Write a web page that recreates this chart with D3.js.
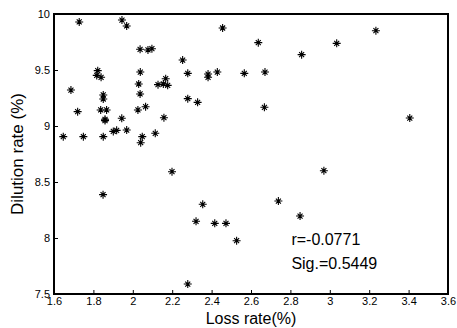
<!DOCTYPE html>
<html>
<head>
<meta charset="utf-8">
<script src="https://cdn.jsdelivr.net/npm/d3@7"></script>
<style>
  body { margin: 0; background: #fff; }
  svg { display: block; font-family: Arial, "Liberation Sans", sans-serif; }
</style>
</head>
<body>
<div id="chart"></div>
<script>
// Scatter data (loss rate %, dilution rate %)
const lossRate = [
  1.728, 1.945, 1.969, 2.456, 2.037, 2.077, 2.097, 2.253, 1.822, 1.817,
  1.839, 2.038, 2.279, 2.382, 2.382, 2.429, 1.686, 2.030, 2.167, 2.128,
  2.155, 2.177, 1.850, 1.850, 2.037, 2.065, 2.279, 2.329, 1.720, 1.837,
  1.867, 2.026, 1.859, 1.859, 1.944, 2.158, 1.647, 1.749, 1.850, 1.901,
  1.918, 1.969, 2.048, 2.040, 2.114, 2.637, 3.035, 3.234, 2.857, 2.566,
  2.671, 2.668, 3.406, 1.849, 2.199, 2.355, 2.321, 2.416, 2.473, 2.279,
  2.527, 2.739, 2.849, 2.970
];
const dilutionRate = [
  9.929, 9.946, 9.893, 9.875, 9.685, 9.679, 9.690, 9.589, 9.494, 9.452,
  9.435, 9.482, 9.470, 9.464, 9.435, 9.482, 9.321, 9.375, 9.422, 9.369,
  9.375, 9.363, 9.277, 9.241, 9.286, 9.172, 9.244, 9.211, 9.128, 9.143,
  9.143, 9.143, 9.060, 9.048, 9.069, 9.074, 8.905, 8.905, 8.905, 8.952,
  8.961, 8.964, 8.905, 8.851, 8.935, 9.744, 9.738, 9.851, 9.637, 9.470,
  9.482, 9.167, 9.071, 8.387, 8.592, 8.301, 8.149, 8.131, 8.131, 7.589,
  7.976, 8.330, 8.196, 8.601
];
const xTicks = [1.6, 1.8, 2, 2.2, 2.4, 2.6, 2.8, 3, 3.2, 3.4, 3.6];
const yTicks = [7.5, 8, 8.5, 9, 9.5, 10];
const statLines = ["r=-0.0771", "Sig.=0.5449"];

const W = 457, H = 328;
const margin = { top: 14, right: 9, bottom: 34, left: 54 };
const width = W - margin.left - margin.right;
const height = H - margin.top - margin.bottom;

const svg = d3.select("#chart").append("svg")
  .attr("width", W)
  .attr("height", H);

const g = svg.append("g")
  .attr("transform", `translate(${margin.left},${margin.top})`);

const x = d3.scaleLinear().domain([1.6, 3.6]).range([0, width]);
const y = d3.scaleLinear().domain([7.5, 10]).range([height, 0]);

// Axes with inward ticks
const xAxis = g.append("g")
  .attr("transform", `translate(0,${height})`)
  .call(d3.axisBottom(x).tickValues(xTicks).tickSizeInner(-4).tickSizeOuter(0)
    .tickFormat(d3.format("~g")));
xAxis.selectAll("text").attr("dy", "0").attr("y", 11).style("font-size", "11px");

const yAxis = g.append("g")
  .call(d3.axisLeft(y).tickValues(yTicks).tickSizeInner(-4).tickSizeOuter(0)
    .tickFormat(d3.format("~g")));
yAxis.selectAll("text").attr("x", -4).style("font-size", "11px");

[xAxis, yAxis].forEach(a => {
  a.select(".domain").remove();
  a.selectAll("line").attr("stroke", "#000");
  a.selectAll("text").attr("fill", "#000");
});

// Box frame
g.append("rect")
  .attr("width", width)
  .attr("height", height)
  .attr("fill", "none")
  .attr("stroke", "#000")
  .attr("stroke-width", 2);

// Star markers
const pts = lossRate.map((v, i) => [v, dilutionRate[i]]);
const mk = g.append("g").selectAll("g")
  .data(pts)
  .enter().append("g")
  .attr("transform", d => `translate(${x(d[0])},${y(d[1])})`);

mk.append("path")
  .attr("d", "M-4,0H4M0,-4V4M-2.5,-2.5L2.5,2.5M-2.5,2.5L2.5,-2.5")
  .attr("stroke", "#000")
  .attr("stroke-width", 1.1)
  .attr("fill", "none");

// Correlation annotation
g.selectAll(".stat")
  .data(statLines)
  .enter().append("text")
  .attr("class", "stat")
  .attr("x", x(2.805))
  .attr("y", (d, i) => y(7.94) + i * 24)
  .style("font-size", "16px")
  .text(d => d);

// Axis titles
svg.append("text")
  .attr("x", margin.left + width / 2)
  .attr("y", 324)
  .attr("text-anchor", "middle")
  .style("font-size", "16px")
  .text("Loss rate(%)");

svg.append("text")
  .attr("transform", `translate(23,${margin.top + height / 2}) rotate(-90)`)
  .attr("text-anchor", "middle")
  .style("font-size", "17px")
  .text("Dilution rate (%)");
</script>
</body>
</html>
